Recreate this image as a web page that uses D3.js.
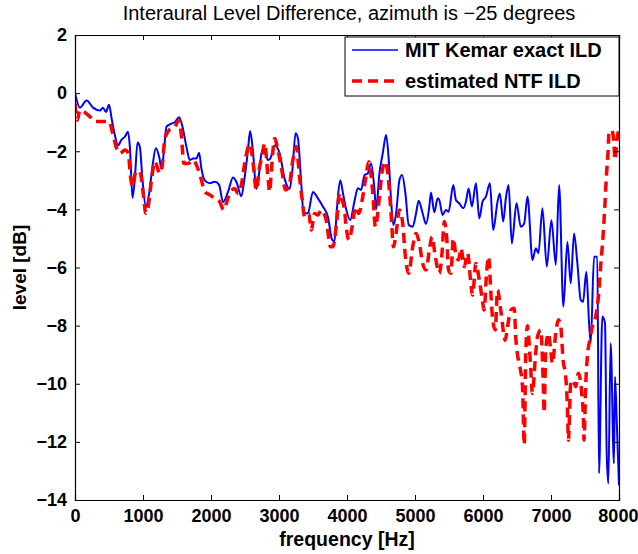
<!DOCTYPE html>
<html>
<head>
<meta charset="utf-8">
<script src="https://cdn.jsdelivr.net/npm/d3@7"></script>
<style>
  body { margin: 0; background: #fff; }
  text { font-family: "Liberation Sans", Arial, Helvetica, sans-serif; }
</style>
</head>
<body>
<svg id="mainsvg" width="638" height="554"></svg>
<script>
// exact ILD from MIT Kemar HRTFs (blue)
const kemarFreq = [0,73,171,265,367,411,455,500,543,587,631,685,734,778,807,846,881,920,954,993,
  1042,1091,1140,1189,1238,1272,1306,1345,1419,1468,1531,1580,1639,1688,1737,1786,1825,1859,1908,1981,
  2055,2118,2177,2250,2324,2373,2446,2495,2544,2575,2617,2666,2705,2740,2774,2838,2872,2936,3009,3083,
  3156,3195,3244,3278,3327,3361,3425,3499,3572,3645,3719,3782,3816,3851,3900,3949,3988,4047,4110,4159,
  4208,4257,4306,4355,4404,4428,4477,4526,4575,4614,4648,4683,4722,4771,4810,4859,4908,4966,5015,5054,
  5113,5162,5211,5235,5284,5333,5358,5406,5456,5494,5563,5602,5651,5710,5750,5788,5837,5896,5945,5994,
  6043,6102,6150,6214,6248,6297,6336,6376,6424,6493,6556,6606,6654,6728,6777,6815,6874,6938,7006,7071,
  7119,7182,7241,7290,7339,7388,7437,7471,7520,7560,7584,7633,7681,7706,7755,7794,7819,7843,7877,7926,
  7941,7970,8000];
const kemarIld = [0.0,-0.5,-0.25,-0.5,-0.6,-0.5,-0.65,-0.4,-0.93,-1.45,-1.8,-1.6,-1.5,-1.33,-1.85,-3.6,-2.9,-1.7,-1.85,-3.0,
  -3.9,-3.45,-2.5,-1.9,-2.2,-2.6,-2.05,-1.15,-1.05,-1.0,-0.83,-1.15,-1.85,-2.3,-2.25,-2.25,-2.05,-2.6,-3.0,-3.1,
  -3.05,-3.15,-3.75,-3.4,-2.9,-3.05,-3.55,-2.9,-1.95,-1.3,-2.0,-3.3,-2.8,-2.1,-1.9,-2.3,-2.25,-1.8,-2.07,-2.95,
  -3.3,-2.7,-1.38,-1.55,-3.1,-4.13,-4.13,-3.4,-3.62,-3.9,-4.25,-5.05,-5.1,-4.0,-3.0,-3.55,-4.0,-4.37,-3.72,-3.27,
  -3.33,-2.82,-2.76,-2.42,-3.33,-4.0,-2.76,-2.07,-1.44,-2.3,-3.68,-4.54,-4.14,-2.99,-2.82,-3.45,-4.54,-4.6,-4.14,-3.7,
  -4.14,-4.5,-3.9,-3.42,-4.1,-3.62,-3.68,-4.19,-4.02,-4.08,-3.16,-3.68,-3.79,-3.96,-3.73,-3.28,-3.9,-3.1,-4.31,-3.73,
  -3.56,-3.1,-4.71,-3.73,-3.45,-4.42,-3.62,-3.16,-5.17,-3.79,-4.6,-4.48,-3.56,-5.74,-5.34,-5.51,-3.96,-5.97,-4.37,-5.91,
  -3.16,-7.35,-5.11,-6.55,-4.83,-5.86,-7.12,-7.18,-6.15,-7.92,-8.61,-5.63,-5.63,-13.08,-7.69,-7.92,-12.4,-13.43,-8.61,-12.74,
  -9.76,-11.5,-13.5];

// estimated ILD from the NTF (red dashed)
const ntfFreq = [0,34,73,132,220,294,416,503,553,612,661,734,783,817,846,895,954,1003,1042,1076,
  1125,1174,1248,1287,1321,1385,1468,1531,1566,1600,1663,1737,1796,1859,1908,1981,2055,2128,2187,2226,
  2275,2348,2397,2446,2495,2570,2617,2666,2715,2755,2789,2838,2862,2887,2936,2984,3033,3097,3146,3204,
  3254,3302,3342,3376,3439,3474,3523,3572,3621,3694,3758,3792,3851,3890,3929,3963,3988,4027,4076,4125,
  4174,4223,4271,4320,4379,4418,4477,4516,4565,4614,4648,4683,4722,4771,4819,4859,4908,4966,5015,5064,
  5113,5162,5211,5250,5299,5358,5397,5431,5465,5494,5529,5563,5602,5641,5676,5725,5773,5822,5847,5896,
  5945,5984,6018,6052,6082,6116,6141,6180,6214,6263,6326,6361,6410,6459,6483,6508,6532,6581,6606,6630,
  6654,6679,6703,6728,6767,6801,6850,6884,6899,6923,6962,6996,7021,7070,7109,7144,7178,7217,7241,7256,
  7290,7325,7364,7403,7452,7476,7486,7511,7535,7569,7608,7657,7706,7730,7765,7794,7814,7838,7853,7892,
  7926,7941,7970,8000];
const ntfIld = [-0.35,-0.93,-0.58,-0.64,-0.81,-0.98,-0.98,-0.98,-1.38,-1.9,-2.07,-1.96,-2.07,-2.88,-3.22,-2.7,-2.7,-3.45,-4.14,-3.91,
  -2.99,-2.36,-2.76,-2.42,-1.56,-1.27,-1.16,-0.93,-1.5,-2.42,-2.42,-2.3,-2.53,-2.99,-3.39,-3.5,-3.62,-3.74,-4.02,-3.79,
  -3.45,-3.28,-3.45,-3.16,-2.42,-1.75,-2.36,-3.33,-2.53,-2.13,-1.73,-2.88,-3.39,-2.7,-1.56,-1.96,-2.53,-3.33,-3.22,-2.3,
  -1.84,-2.88,-3.68,-4.25,-4.14,-4.71,-4.14,-4.19,-4.02,-4.37,-5.29,-5.29,-4.37,-3.45,-3.68,-4.02,-4.6,-5.05,-4.6,-3.91,
  -4.14,-3.68,-2.99,-2.36,-3.45,-4.6,-3.56,-2.7,-2.36,-3.1,-4.14,-5.29,-4.83,-4.02,-4.48,-5.63,-6.2,-5.29,-4.83,-5.17,
  -5.86,-6.09,-5.4,-4.94,-5.63,-6.2,-5.51,-4.42,-4.94,-6.09,-6.2,-5.0,-5.57,-5.74,-5.34,-5.97,-5.51,-6.55,-6.95,-5.86,
  -6.43,-7.0,-7.46,-6.2,-5.63,-6.89,-7.75,-8.15,-6.78,-7.5,-8.5,-8.04,-7.46,-7.4,-8.45,-9.01,-9.3,-10.1,-12.1,-8.84,
  -8.0,-8.61,-9.53,-10.33,-9.19,-8.38,-8.15,-9.87,-11.0,-8.84,-8.27,-8.84,-9.3,-8.27,-7.8,-8.04,-9.19,-9.76,-10.79,-11.94,
  -10.0,-9.87,-10.1,-9.64,-10.33,-11.14,-11.94,-10.0,-9.07,-8.5,-8.04,-7.69,-6.78,-5.97,-4.94,-3.79,-2.88,-2.07,-1.38,-1.27,
  -1.73,-2.3,-1.6,-1.2];

const xTicks = [0,1000,2000,3000,4000,5000,6000,7000,8000];
const yTicks = [2,0,-2,-4,-6,-8,-10,-12,-14];
const legendLabels = ["MIT Kemar exact ILD", "estimated NTF ILD"];

let svg = d3.select('#mainsvg');
const margin = {left: 75, top: 35, right: 19, bottom: 54};
const width = +svg.attr('width'), height = +svg.attr('height');
const innerW = width - margin.left - margin.right;
const innerH = height - margin.top - margin.bottom;

const x = d3.scaleLinear().domain([0, 8000]).range([0, innerW]);
const y = d3.scaleLinear().domain([-14, 2]).range([innerH, 0]);

const g = svg.append('g').attr('transform', `translate(${margin.left},${margin.top})`);

g.append('clipPath').attr('id', 'clip')
  .append('rect').attr('width', innerW).attr('height', innerH);

const line = d3.line().curve(d3.curveMonotoneX).x(d => x(d[0])).y(d => y(d[1]));
const kemar = kemarFreq.map((f, i) => [f, kemarIld[i]]);
const ntf = ntfFreq.map((f, i) => [f, ntfIld[i]]);

const plot = g.append('g').attr('clip-path', 'url(#clip)');
plot.append('path').datum(kemar)
  .attr('d', line).attr('fill', 'none')
  .attr('stroke', '#0000ff').attr('stroke-width', 2);
plot.append('path').datum(ntf)
  .attr('d', line).attr('fill', 'none')
  .attr('stroke', '#ff0000').attr('stroke-width', 3.5)
  .attr('stroke-dasharray', '10,6');

// axes: ticks inward on all four sides, like a matlab box
const fmt = d => d < 0 ? '\u2212' + Math.abs(d) : String(d);
const tickLen = 5;

const xb = g.append('g').attr('transform', `translate(0,${innerH})`)
  .call(d3.axisBottom(x).tickValues(xTicks).tickSize(-tickLen).tickPadding(9).tickFormat(fmt));
const xt = g.append('g')
  .call(d3.axisTop(x).tickValues(xTicks).tickSize(-tickLen).tickFormat(''));
const yl = g.append('g')
  .call(d3.axisLeft(y).tickValues(yTicks).tickSize(-tickLen).tickPadding(8).tickFormat(fmt));
const yr = g.append('g').attr('transform', `translate(${innerW},0)`)
  .call(d3.axisRight(y).tickValues(yTicks).tickSize(-tickLen).tickFormat(''));

[xb, xt, yl, yr].forEach(a => {
  a.select('.domain').attr('stroke', '#000').attr('stroke-width', 1.2);
  a.selectAll('.tick line').attr('stroke', '#000');
  a.selectAll('.tick text').attr('fill', '#000')
    .style('font-size', '18px').style('font-weight', 'bold');
});
// last x label sits at the window edge, keep it inside
xb.selectAll('.tick text').filter(d => d === 8000).attr('text-anchor', 'end').attr('dx', '1.05em');

svg.append('text')
  .attr('x', margin.left + innerW / 2 + 2).attr('y', 20)
  .attr('text-anchor', 'middle')
  .style('font-size', '20px')
  .text('Interaural Level Difference, azimuth is \u221225 degrees');

svg.append('text')
  .attr('x', margin.left + innerW / 2).attr('y', 546)
  .attr('text-anchor', 'middle')
  .style('font-size', '19.5px').style('font-weight', 'bold')
  .text('frequency [Hz]');

svg.append('text')
  .attr('transform', `translate(26,${margin.top + innerH / 2}) rotate(-90)`)
  .attr('text-anchor', 'middle')
  .style('font-size', '19px').style('font-weight', 'bold')
  .text('level [dB]');

// legend
const lg = svg.append('g').attr('transform', 'translate(345,37)');
lg.append('rect').attr('width', 274).attr('height', 59)
  .attr('fill', '#fff').attr('stroke', '#000').attr('stroke-width', 1);
const legendStyles = [
  {stroke: '#0000ff', width: 1.5, dash: null},
  {stroke: '#ff0000', width: 3.5, dash: '10,6'}
];
legendLabels.forEach((lab, i) => {
  const yy = 13 + i * 31;
  lg.append('line').attr('x1', 7).attr('x2', 53).attr('y1', yy).attr('y2', yy)
    .attr('stroke', legendStyles[i].stroke)
    .attr('stroke-width', legendStyles[i].width)
    .attr('stroke-dasharray', legendStyles[i].dash);
  lg.append('text').attr('x', 60).attr('y', yy + 7)
    .style('font-size', '20px').style('font-weight', 'bold')
    .text(lab);
});
</script>
</body>
</html>
